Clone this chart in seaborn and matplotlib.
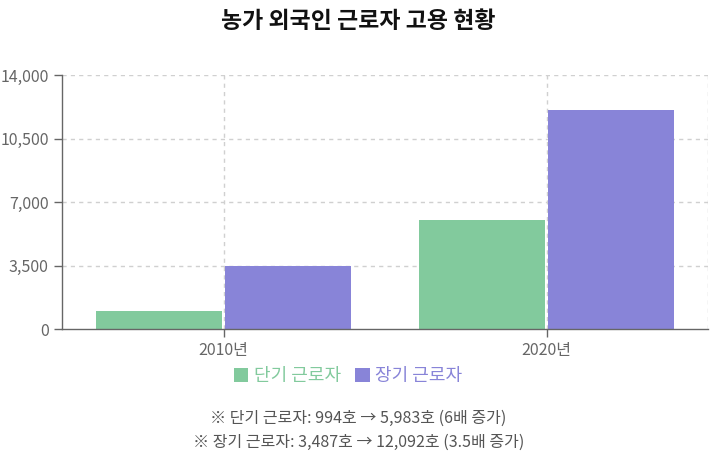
import matplotlib
matplotlib.use("Agg")
import matplotlib.pyplot as plt
import seaborn as sns
import pandas as pd
from matplotlib.patches import Patch

categories = ["2010년", "2020년"]
series_names = ["단기 근로자", "장기 근로자"]
short_term = [994, 5983]
long_term = [3487, 12092]
y_ticks = [0, 3500, 7000, 10500, 14000]
colors = ["#82ca9d", "#8884d8"]
title = "농가 외국인 근로자 고용 현황"
notes = ["※ 단기 근로자: 994호 → 5,983호 (6배 증가)",
         "※ 장기 근로자: 3,487호 → 12,092호 (3.5배 증가)"]

df = pd.DataFrame({
    "연도": categories * 2,
    "구분": [series_names[0]] * 2 + [series_names[1]] * 2,
    "값": short_term + long_term,
})

sns.set_theme(style="white")
plt.rcParams["font.family"] = ["Noto Sans CJK KR", "DejaVu Sans"]

fig = plt.figure(figsize=(7.10, 4.58), dpi=100)
ax = fig.add_axes([62/710, 1-329/458, (708-62)/710, (329-75)/458])

sns.barplot(data=df, x="연도", y="값", hue="구분", palette=colors,
            width=0.8, gap=0.03, saturation=1, ax=ax, legend=False,
            edgecolor="none")

ax.set_xlim(-0.5, 1.5)
ax.set_ylim(0, 14000)
ax.set_yticks(y_ticks)
ax.set_yticklabels([f"{v:,}" for v in y_ticks])
ax.set_xlabel("")
ax.set_ylabel("")

grid_kw = dict(color="#d0d0d0", linestyle=(0, (3, 3)), linewidth=1)
for v in y_ticks[1:]:
    ax.axhline(v, zorder=0, **grid_kw)
for xv in [0, 1, 1.5]:
    ax.axvline(xv, zorder=0, **grid_kw)

for s in ["top", "right"]:
    ax.spines[s].set_visible(False)
for s in ["left", "bottom"]:
    ax.spines[s].set_color("#666666")
    ax.spines[s].set_linewidth(1)
ax.tick_params(axis="both", colors="#666666", labelcolor="#666666",
               labelsize=11.5, length=6, width=1, direction="out")
ax.tick_params(axis="both", which="both", left=True, bottom=True)

fig.text(0.505, 1-22/458, title, ha="center", va="center",
         fontsize=16.5, fontweight="bold", color="#111111")

handles = [Patch(facecolor=c, edgecolor="none") for c in colors]
leg = fig.legend(handles, series_names, loc="center", bbox_to_anchor=(348/710, 1-376/458),
                 ncol=2, frameon=False, fontsize=13, handlelength=0.8, handleheight=0.8,
                 handletextpad=0.3, columnspacing=0.8)
for t, c in zip(leg.get_texts(), colors):
    t.set_color(c)

fig.text(0.505, 1-418/458, notes[0], ha="center", va="center", fontsize=11.5, color="#555555")
fig.text(0.505, 1-442/458, notes[1], ha="center", va="center", fontsize=11.5, color="#555555")

fig.savefig("out.png", dpi=100)
